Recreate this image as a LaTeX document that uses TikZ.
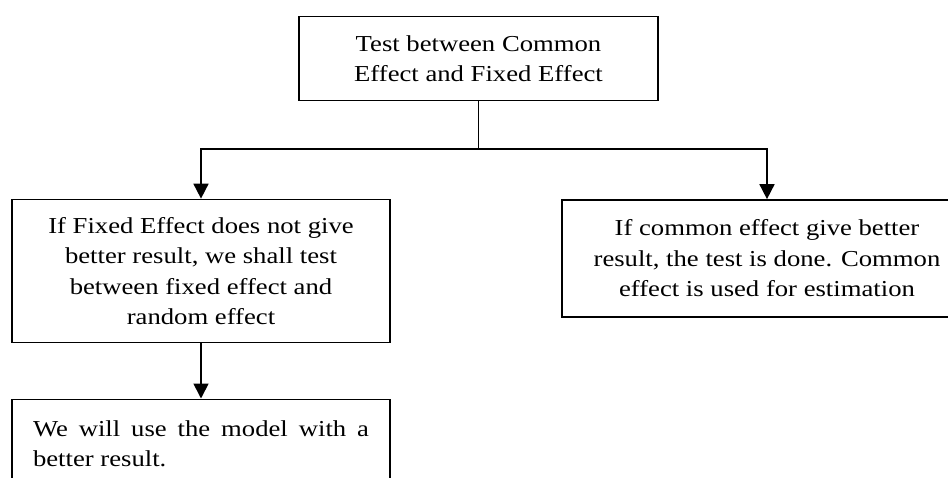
\documentclass[tikz,border=0pt]{standalone}
\usepackage{fontspec}
\setmainfont{Liberation Serif}[FakeStretch=1.17]
\usetikzlibrary{arrows.meta}
\begin{document}
\begin{tikzpicture}[x=1pt,y=-1pt,
  box/.style={draw, line width=1.7pt, rectangle, inner sep=0pt, align=center,
    font=\fontsize{22.8}{30.5}\selectfont},
  conn/.style={line width=1.7pt, -{Triangle[width=15pt,length=15pt]}},
  thinconn/.style={line width=1pt}]
\useasboundingbox (0,0) rectangle (948,477);
\clip (0,0) rectangle (948,477);
\node[box, minimum width=359pt, minimum height=84pt] (top) at (478.5,58.5)
  {Test between Common\\Effect and Fixed Effect};
\node[box, minimum width=378.5pt, minimum height=143pt] (left) at (201,271)
  {If Fixed Effect does not give\\better result, we shall test\\between fixed effect and\\random effect};
\node[box, minimum width=410pt, minimum height=117pt] (right) at (767,258.5)
  {If common effect give better\\result, the test is done. Common\\effect is used for estimation};
\node[box, anchor=north, minimum width=378.5pt, minimum height=89pt, text width=336pt, align=justify,
  font=\fontsize{22.8}{29.5}\selectfont] (bottom) at (201,398.5)
  {We will use the model with a better result.};
\coordinate (j) at (478.5,149);
\draw[thinconn] (top.south) -- (j);
\draw[conn] (j) -| (left.north);
\draw[conn] (j) -| (right.north);
\draw[conn] (left.south) -- (bottom.north);
\end{tikzpicture}
\end{document}
